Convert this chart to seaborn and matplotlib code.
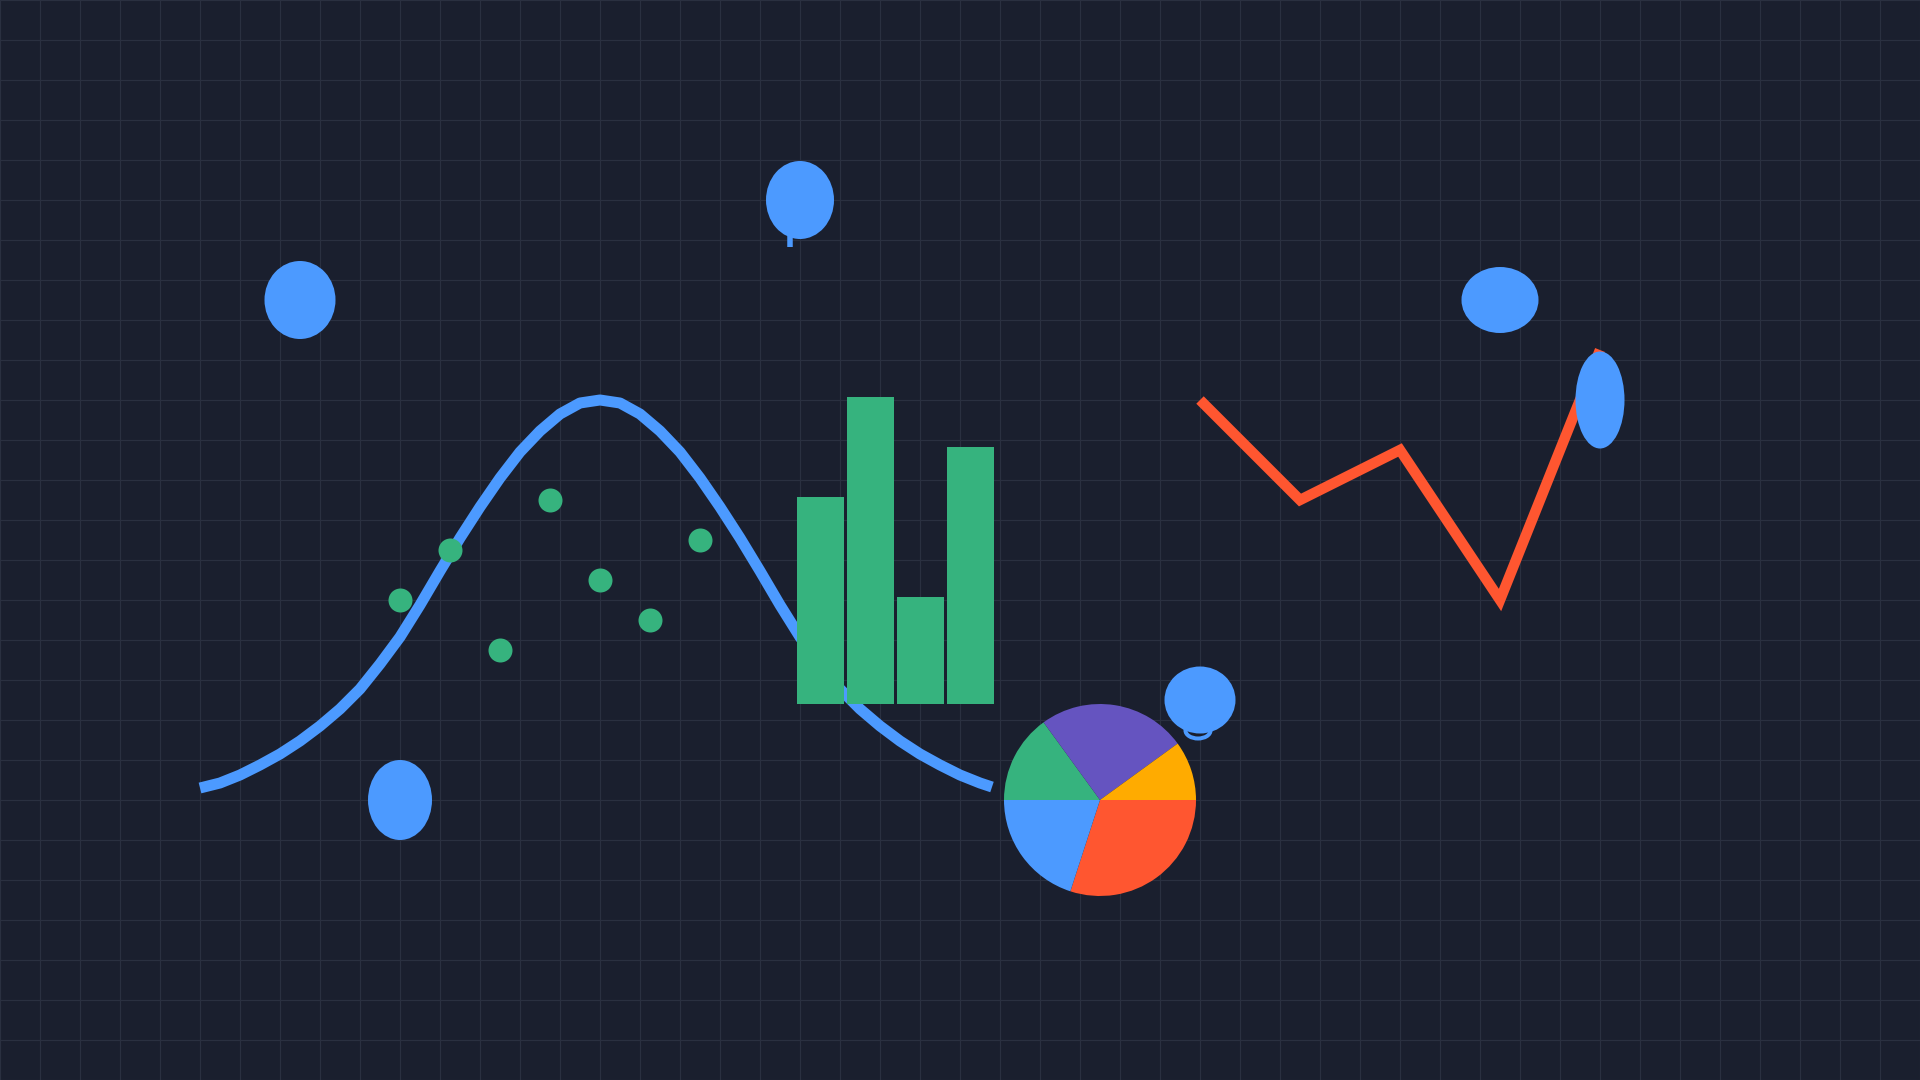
import matplotlib
matplotlib.use("Agg")
import matplotlib.pyplot as plt
from matplotlib.patches import Ellipse
import seaborn as sns

# ---------------- data ----------------
curve_x = [200, 220, 240, 260, 280, 300, 320, 340, 360, 380, 400, 420, 440, 460, 480, 500,
           520, 540, 560, 580, 600, 620, 640, 660, 680, 700, 720, 740, 760, 780, 800,
           820, 840, 860, 880, 900, 920, 940, 960, 980, 992]
curve_y = [788, 783, 775, 765, 754, 741, 726, 709, 689, 664, 637, 605, 571, 538, 507, 478,
           452, 431, 414, 403, 400, 403, 414, 431, 452, 478, 507, 538, 571, 605, 637,
           664, 689, 709, 726, 741, 754, 765, 775, 783, 787]

dots_x = [400, 450, 500, 550, 600, 650, 700]
dots_y = [600, 550, 650, 500, 580, 620, 540]

bar_left = [797, 847, 897, 947]
bar_heights = [207, 307, 107, 257]
bar_base = 704
bar_width = 47

red_x = [1200, 1300, 1400, 1500, 1600]
red_y = [400, 500, 450, 600, 350]

pie_values = [30, 20, 15, 25, 10]
pie_colors = ["#ff5630", "#4c9aff", "#36b37e", "#6554c0", "#ffab00"]
pie_center = (1100, 800)
pie_radius = 96

balloon_x = [300, 800, 1500, 1600, 400, 1200]
balloon_y = [300, 200, 300, 400, 800, 700]
balloon_w = [71, 68, 77, 49, 64, 71]
balloon_h = [78, 78, 66, 97, 80, 67]

# ---------------- style ----------------
BG = "#1a1f2e"
GRID = "#2a3040"
BLUE = "#4c9aff"
GREEN = "#36b37e"
RED = "#ff5630"

sns.set_theme(style="dark")
plt.rcParams["font.family"] = ["DejaVu Sans"]

fig = plt.figure(figsize=(1920 / 72, 1080 / 72), dpi=72, facecolor=BG)
ax = fig.add_axes([0, 0, 1, 1])
ax.set_facecolor(BG)

# grid
ax.set_xticks(range(0, 1921, 40))
ax.set_yticks(range(0, 1081, 40))
ax.tick_params(length=0, labelbottom=False, labelleft=False)
ax.grid(True, color=GRID, linewidth=1.2)
ax.set_axisbelow(True)
for s in ax.spines.values():
    s.set_visible(False)

# blue curve
sns.lineplot(x=curve_x, y=curve_y, sort=False, color=BLUE, linewidth=11,
             solid_capstyle="butt", solid_joinstyle="round", ax=ax, zorder=2)

# green dots
sns.scatterplot(x=dots_x, y=dots_y, color=GREEN, s=576, linewidth=0, ax=ax, zorder=3)

# bars (upward on an inverted y axis)
ax.bar(bar_left, [-h for h in bar_heights], width=bar_width, bottom=bar_base,
       align="edge", color=GREEN, linewidth=0, zorder=4)

# red line
sns.lineplot(x=red_x, y=red_y, sort=False, color=RED, linewidth=10.5,
             solid_capstyle="butt", solid_joinstyle="miter", ax=ax, zorder=5)

# pie
ax.pie(pie_values, colors=pie_colors, center=pie_center, radius=pie_radius,
       startangle=0, counterclock=True, frame=True,
       wedgeprops=dict(linewidth=0, zorder=6))

# balloon extras (string on balloon 2, knot on balloon 6)
ax.plot([790, 790], [236, 247], color=BLUE, linewidth=5.5, solid_capstyle="butt", zorder=9)
ax.add_patch(Ellipse((1198, 730.5), 25, 16, facecolor=BG, edgecolor=BLUE,
                     linewidth=4, zorder=9))

# balloons
for bx, by, bw, bh in zip(balloon_x, balloon_y, balloon_w, balloon_h):
    ax.add_patch(Ellipse((bx, by), bw, bh, facecolor=BLUE, edgecolor="none", zorder=10))

ax.set_aspect("auto")
ax.set_xlim(0, 1920)
ax.set_ylim(1080, 0)
ax.set_xlabel("")
ax.set_ylabel("")
if ax.get_legend() is not None:
    ax.get_legend().remove()

fig.savefig("out.png", dpi=72, facecolor=BG)
